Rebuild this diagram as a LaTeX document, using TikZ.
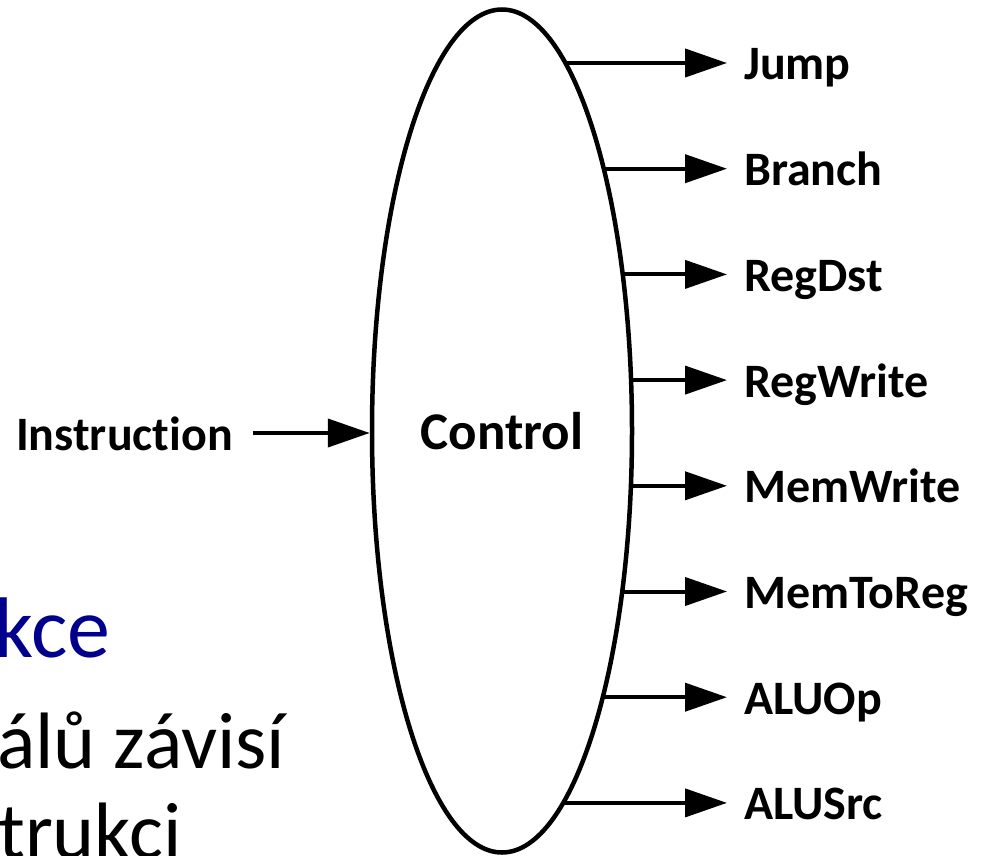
\documentclass[tikz,border=0pt]{standalone}
\usepackage{fontspec}
\setmainfont{Carlito}[Ligatures=NoCommon]
\usetikzlibrary{arrows.meta,shapes.geometric,backgrounds}
\definecolor{slideblue}{RGB}{0,0,140}

\begin{document}
\begin{tikzpicture}[
    x=1pt, y=-1pt,
    every node/.style={font=\fontsize{48}{56}\selectfont\bfseries},
    arr/.style={-{Triangle[length=42pt,width=28pt]}, line width=4pt},
    sig/.style={anchor=west, inner xsep=17pt, inner ysep=0pt,
      text height=34pt, text depth=0pt},
    slide/.style={anchor=base west, inner sep=0pt, font=\fontsize{80}{90}\selectfont}
  ]
  \useasboundingbox (0,0) rectangle (985,856);
  \clip (0,0) rectangle (985,856);
  % slide text behind the diagram
  \node[slide, text=slideblue, font=\fontsize{86}{100}\selectfont] (kce) at (-6,657) {kce};
  \node[slide] (zav) at (-3,768) {álů závisí};
  \node[slide] (trk) at (-2,858) {trukci};

  \node[draw, ellipse, fill=white, line width=4.5pt, minimum width=260pt,
    minimum height=843pt, inner sep=0pt,
    font=\fontsize{53}{60}\selectfont\bfseries] (ctl) at (502,431) {Control};
  \node[sig, anchor=east, inner xsep=20pt] (instr) at (253,433) {Instruction};
  \draw[arr] (instr.east) -- (instr.east -| ctl.west);

  % control signals
  \foreach \lbl [count=\i] in {Jump,Branch,RegDst,RegWrite,MemWrite,MemToReg,ALUOp,ALUSrc}
    \node[sig] (s\i) at (727,{63+(\i-1)*105.7}) {\lbl};
  \begin{scope}[on background layer]
    \foreach \i in {1,...,8}
      \draw[arr] (ctl.center |- s\i.west) -- (s\i.west);
  \end{scope}
\end{tikzpicture}
\end{document}
